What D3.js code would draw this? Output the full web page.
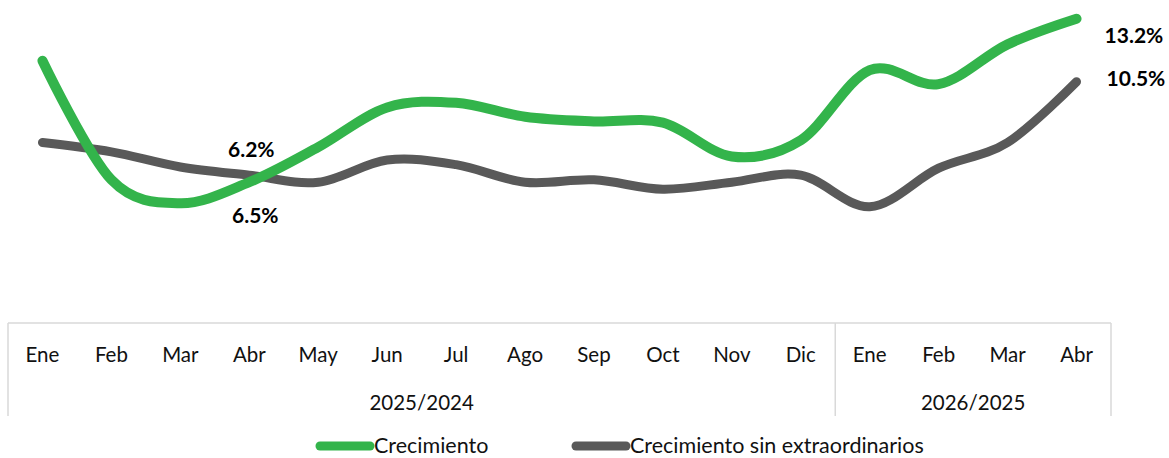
<!DOCTYPE html>
<html>
<head>
<meta charset="utf-8">
<script src="https://cdn.jsdelivr.net/npm/d3@7"></script>
<style>
  body { margin: 0; background: #fff; }
  svg { display: block; font-family: Lato, "Open Sans", sans-serif; }
</style>
</head>
<body>
<svg id="chart" width="1169" height="458"></svg>
<script>
// months across the two periods
var months = ["Ene", "Feb", "Mar", "Abr", "May", "Jun", "Jul", "Ago", "Sep", "Oct", "Nov", "Dic", "Ene", "Feb", "Mar", "Abr"];
var periods = ["2025/2024", "2026/2025"];
var periodSizes = [12, 4];

var crecimiento = [11.4, 6.3, 5.3, 6.2, 7.7, 9.4, 9.6, 9.0, 8.8, 8.75, 7.3, 8.0, 11.0, 10.4, 12.1, 13.2];
var sinExtra = [7.9, 7.5, 6.85, 6.5, 6.2, 7.15, 6.95, 6.2, 6.3, 5.9, 6.2, 6.5, 5.15, 6.8, 7.9, 10.5];

var seriesNames = ["Crecimiento", "Crecimiento sin extraordinarios"];
var colors = ["#33b44b", "#595959"];

var svg = d3.select("#chart");

var left = 8, right = 1111, boxTop = 323, boxBottom = 416;

var idx = d3.range(months.length);
var x = d3.scalePoint().domain(idx).range([left, right]).padding(0.5);
var y = d3.scaleLinear().domain([0, 14]).range([327, 0]);

var line = d3.line()
  .x(function (d, i) { return x(i); })
  .y(function (d) { return y(d); })
  .curve(d3.curveCardinal.tension(0));

// gray first so the green draws on top
svg.append("path")
  .datum(sinExtra)
  .attr("fill", "none")
  .attr("stroke", colors[1])
  .attr("stroke-width", 9)
  .attr("stroke-linecap", "round")
  .attr("d", line);

svg.append("path")
  .datum(crecimiento)
  .attr("fill", "none")
  .attr("stroke", colors[0])
  .attr("stroke-width", 10)
  .attr("stroke-linecap", "round")
  .attr("d", line);

// data labels
var last = months.length - 1;
svg.append("text")
  .attr("x", x(last) + 28).attr("y", y(crecimiento[last]) + 24)
  .attr("font-weight", "bold").attr("font-size", 21)
  .text(crecimiento[last].toFixed(1) + "%");
svg.append("text")
  .attr("x", x(last) + 30).attr("y", y(sinExtra[last]) + 4)
  .attr("font-weight", "bold").attr("font-size", 21)
  .text(sinExtra[last].toFixed(1) + "%");
svg.append("text")
  .attr("x", x(3) + 2).attr("y", y(crecimiento[3]) - 25)
  .attr("text-anchor", "middle")
  .attr("font-weight", "bold").attr("font-size", 21)
  .text(crecimiento[3].toFixed(1) + "%");
svg.append("text")
  .attr("x", x(3) + 6).attr("y", y(sinExtra[3]) + 48)
  .attr("text-anchor", "middle")
  .attr("font-weight", "bold").attr("font-size", 21)
  .text(sinExtra[3].toFixed(1) + "%");

// category axis box
var step = x.step();
var boxes = svg.append("g")
  .attr("stroke", "#d9d9d9")
  .attr("stroke-width", 1.5);
boxes.append("line").attr("x1", left).attr("x2", right).attr("y1", boxTop).attr("y2", boxTop);
var edges = [0];
periodSizes.forEach(function (n, i) { edges.push(edges[i] + n); });
edges.forEach(function (e) {
  var ex = left + e * step;
  boxes.append("line").attr("x1", ex).attr("x2", ex).attr("y1", boxTop).attr("y2", boxBottom);
});

svg.append("g")
  .selectAll("text")
  .data(months)
  .join("text")
  .attr("x", function (d, i) { return x(i); })
  .attr("y", 362)
  .attr("text-anchor", "middle")
  .attr("font-size", 20.5)
  .attr("fill", "#111")
  .text(function (d) { return d; });

svg.append("g")
  .selectAll("text")
  .data(periods)
  .join("text")
  .attr("x", function (d, i) { return left + (edges[i] + periodSizes[i] / 2) * step; })
  .attr("y", 410)
  .attr("text-anchor", "middle")
  .attr("font-size", 20.5)
  .attr("fill", "#111")
  .text(function (d) { return d; });

// legend
var legendX = [316, 572];
var legend = svg.append("g")
  .selectAll("g")
  .data(seriesNames)
  .join("g")
  .attr("transform", function (d, i) { return "translate(" + legendX[i] + ",446)"; });
legend.append("line")
  .attr("x1", 4).attr("x2", 54)
  .attr("stroke", function (d, i) { return colors[i]; })
  .attr("stroke-width", 9)
  .attr("stroke-linecap", "round");
legend.append("text")
  .attr("x", 58).attr("y", 7)
  .attr("font-size", 21.5)
  .attr("fill", "#111")
  .text(function (d) { return d; });
</script>
</body>
</html>
